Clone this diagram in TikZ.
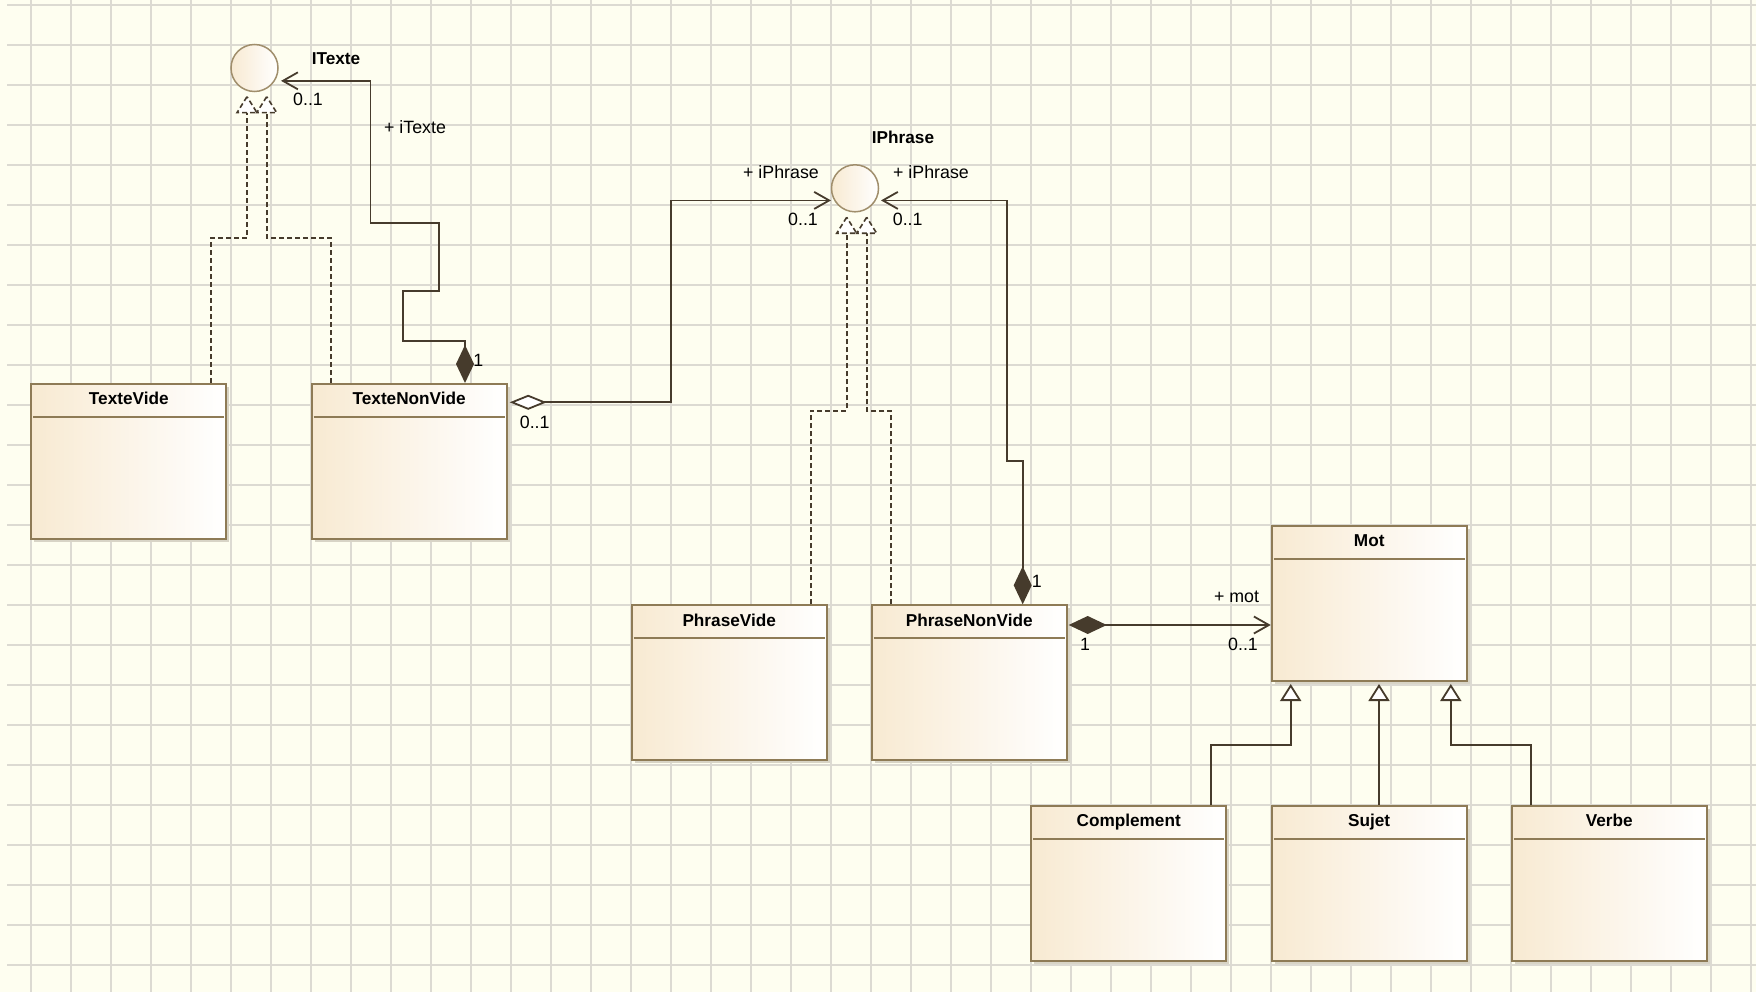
\documentclass[tikz,border=0pt]{standalone}
\usepackage{fontspec}
\setmainfont{Liberation Sans}
\usetikzlibrary{arrows.meta,calc,shadows}

\definecolor{paper}{HTML}{FEFEF0}
\definecolor{gridc}{HTML}{DCDAD2}
\definecolor{linec}{HTML}{463B2C}
\definecolor{boxc}{HTML}{8E7B56}
\definecolor{boxl}{HTML}{F8EAD2}
\definecolor{shadowc}{HTML}{D8D4C6}
\definecolor{circc}{HTML}{A08E6C}

% class box: name, centre x, centre y, title
\newcommand\umlclass[4]{%
  \node[classbox] (#1) at (#2,#3) {};
  \draw[boxc, line width=2pt] ([xshift=3pt,yshift=-34pt]#1.north west) -- ([xshift=-3pt,yshift=-34pt]#1.north east);
  \node[ttl] (#1-title) at ([yshift=-21.7pt]#1.north) {#4};
}
% dashed hollow triangle of a realization, apex given
\newcommand\realtip[1]{%
  \draw[real, fill=white] (#1) -- ++(-10,16) -- ++(20,0) -- cycle;
}

\begin{document}
\begin{tikzpicture}[x=1pt,y=-1pt,
  classbox/.style={draw=boxc, line width=2pt, left color=boxl, right color=white,
    minimum width=195pt, minimum height=155pt, inner sep=0pt,
    general shadow={fill=shadowc, shadow xshift=3pt, shadow yshift=-3pt}},
  iface/.style={circle, draw=circc, line width=1.5pt, left color=boxl, right color=white,
    minimum size=47pt, inner sep=0pt},
  ttl/.style={anchor=base, inner sep=0pt, font=\fontsize{17.2}{20}\selectfont\bfseries},
  lbl/.style={anchor=base, inner sep=0pt, font=\fontsize{17.8}{20}\selectfont},
  conn/.style={draw=linec, line width=1.8pt},
  real/.style={draw=linec, line width=1.6pt, dash pattern=on 5pt off 3pt},
  compo/.style={conn, {Diamond[length=38pt,width=18pt,fill=linec]}-{Straight Barb[length=15pt,width=17pt]}},
  aggr/.style={conn, {Diamond[length=37pt,width=15pt,fill=white]}-{Straight Barb[length=15pt,width=17pt]}},
  gen/.style={conn, -{Triangle[length=17pt,width=21pt,fill=white]}},
]
\useasboundingbox (0,0) rectangle (1756,992);
\fill[paper] (0,0) rectangle (1756,992);

% background grid
\foreach \i in {0,...,43} \draw[gridc, line width=1.6pt] (31+40*\i,0) -- (31+40*\i,992);
\foreach \j in {0,...,24} \draw[gridc, line width=1.6pt] (7,5+40*\j) -- (1756,5+40*\j);

% interfaces
\node[iface] (itexte) at (254.5,68) {};
\node[iface] (iphrase) at (855,188.3) {};
\node[ttl] (itexte-name) at (336,65) {ITexte};
\node[ttl] (iphrase-name) at (903,144) {IPhrase};

% classes
\umlclass{tv}{128.8}{461.5}{TexteVide}
\umlclass{tnv}{409.2}{461.5}{TexteNonVide}
\umlclass{pv}{729.2}{682.8}{PhraseVide}
\umlclass{pnv}{969.2}{682.8}{PhraseNonVide}
\umlclass{mot}{1369.2}{603.5}{Mot}
\umlclass{comp}{1128.7}{883.5}{Complement}
\umlclass{sujet}{1369.1}{883.5}{Sujet}
\umlclass{verbe}{1609.2}{883.5}{Verbe}

% realizations of ITexte
\coordinate (ta1) at (247,96.7);
\coordinate (ta2) at (266.7,96.7);
\draw[real] ([xshift=82.2pt]tv.north) -- ++(0,-145) -| ($(ta1)+(0,16)$);
\draw[real] ([xshift=-78.2pt]tnv.north) -- ++(0,-145) -| ($(ta2)+(0,16)$);
\realtip{ta1}
\realtip{ta2}

% realizations of IPhrase
\coordinate (pa1) at (846.7,217.3);
\coordinate (pa2) at (866.7,217.3);
\draw[real] ([xshift=81.5pt]pv.north) -- ++(0,-193.6) -| ($(pa1)+(0,16)$);
\draw[real] ([xshift=-78.5pt]pnv.north) -- ++(0,-193.6) -| ($(pa2)+(0,16)$);
\realtip{pa1}
\realtip{pa2}

% TexteNonVide -> ITexte
\draw[compo, shorten >=6pt] ([xshift=55.8pt]tnv.north) |- (403,340.7) |- (438.6,290.7) |- (370.5,222.7) |- (itexte.-32);
\node[lbl] (m1) at (308,106) {0..1};
\node[lbl] (r1) at (415,133.3) {+ iTexte};
\node[lbl] (m2) at (478.3,366) {1};

% TexteNonVide -> IPhrase
\draw[aggr, shorten <=2pt, shorten >=3pt] ([yshift=-19.3pt]tnv.north east) -- (671,402.3) |- (iphrase.-150);
\node[lbl] (m3) at (534.7,428.3) {0..1};
\node[lbl] (r2) at (781,178.3) {+ iPhrase};
\node[lbl] (m4) at (803,226) {0..1};

% PhraseNonVide -> IPhrase
\draw[compo, shorten >=5pt] ([xshift=53.5pt]pnv.north) |- (1006.7,461) |- (iphrase.-30);
\node[lbl] (r3) at (931,178.3) {+ iPhrase};
\node[lbl] (m5) at (907.7,226) {0..1};
\node[lbl] (m6) at (1036.7,587.7) {1};

% PhraseNonVide -> Mot
\draw[compo, shorten <=1pt] ([yshift=-20.7pt]pnv.north east) -- ([yshift=-20.7pt]pnv.north east -| mot.west);
\node[lbl] (m7) at (1085,650) {1};
\node[lbl] (r4) at (1236.5,602) {+ mot};
\node[lbl] (m8) at (1243,650) {0..1};

% generalizations
\draw[gen] ([xshift=82.5pt]comp.north) -- ++(0,-60) -| ([xshift=-78.5pt,yshift=-2pt]mot.south);
\draw[gen] ([xshift=9.9pt]sujet.north) -- ([xshift=9.8pt,yshift=-2pt]mot.south);
\draw[gen] ([xshift=-78.6pt]verbe.north) -- ++(0,-60) -| ([xshift=81.6pt,yshift=-2pt]mot.south);
\end{tikzpicture}
\end{document}
